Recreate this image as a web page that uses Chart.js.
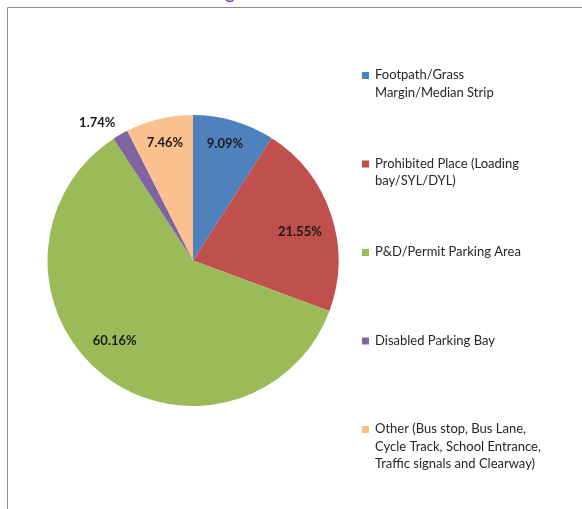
<!DOCTYPE html>
<html>
<head>
<meta charset="utf-8">
<script src="https://cdn.jsdelivr.net/npm/chart.js@4/dist/chart.umd.min.js"></script>
<style>
  html, body { margin: 0; padding: 0; background: #fff; }
  #wrap { position: relative; width: 582px; height: 509px; overflow: hidden; }
</style>
</head>
<body>
<div id="wrap"><canvas id="pieChart" width="582" height="509"></canvas></div>
<script>
// data
var categories = [
	['Footpath/Grass', 'Margin/Median Strip'],
	['Prohibited Place (Loading', 'bay/SYL/DYL)'],
	['P&D/Permit Parking Area'],
	['Disabled Parking Bay'],
	['Other (Bus stop, Bus Lane,', 'Cycle Track, School Entrance,', 'Traffic signals and Clearway)']
];
var percentages = [9.09, 21.55, 60.16, 1.74, 7.46];
var sliceColors = ['#4F81BD', '#C0504D', '#9BBB59', '#8064A2', '#FAC090'];

// where each percent label sits: fraction of the radius, and a small turn (degrees) off the slice middle
var labelRadius = [0.83, 0.76, 0.77, 1.15, 0.83];
var labelTurn = [-1, 3.6, 5.7, -4.9, 0];

var fontName = 'Lato, "Open Sans", sans-serif';

// frame, clipped title and the percent labels
var decorPlugin = {
	id: 'decor',
	beforeDraw: function(chart) {
		var ctx = chart.ctx;
		ctx.save();
		ctx.fillStyle = '#fff';
		ctx.fillRect(0, 0, chart.width, chart.height);
		ctx.strokeStyle = '#8c8c8c';
		ctx.lineWidth = 1;
		ctx.beginPath();
		ctx.moveTo(7.5, chart.height);
		ctx.lineTo(7.5, 7.5);
		ctx.lineTo(chart.width, 7.5);
		ctx.stroke();
		// title, mostly cut off above the picture
		ctx.fillStyle = '#7030A0';
		ctx.font = '19px ' + fontName;
		ctx.textBaseline = 'alphabetic';
		ctx.fillText('g', 225, -1);
		ctx.restore();
	},
	afterDatasetsDraw: function(chart) {
		var ctx = chart.ctx;
		var arcs = chart.getDatasetMeta(0).data;
		ctx.save();
		ctx.font = 'bold 13px ' + fontName;
		ctx.fillStyle = '#1a1a1a';
		ctx.textAlign = 'center';
		ctx.textBaseline = 'middle';
		arcs.forEach(function(arc, i) {
			var mid = (arc.startAngle + arc.endAngle) / 2 + labelTurn[i] * Math.PI / 180;
			var r = arc.outerRadius * labelRadius[i];
			var x = arc.x + Math.cos(mid) * r;
			var y = arc.y + Math.sin(mid) * r;
			ctx.fillText(percentages[i].toFixed(2) + '%', x, y);
		});
		ctx.restore();
	}
};

// legend drawn on the right, multi-line like the original
var sideLegend = {
	id: 'sideLegend',
	afterDraw: function(chart) {
		var ctx = chart.ctx;
		ctx.save();
		ctx.font = '13px ' + fontName;
		ctx.textBaseline = 'middle';
		categories.forEach(function(lines, i) {
			var y0 = 75 + i * 88.5;
			ctx.fillStyle = sliceColors[i];
			ctx.fillRect(362, y0 - 3, 7, 7);
			ctx.fillStyle = '#262626';
			lines.forEach(function(t, j) {
				ctx.fillText(t, 375, y0 + j * 17.5);
			});
		});
		ctx.restore();
	}
};

const pc = document.getElementById('pieChart');
var pieChart = new Chart(pc, {
	type: 'pie',
	data: {
		labels: categories.map(function(l) { return l.join(' '); }),
		datasets: [{
			data: percentages,
			backgroundColor: sliceColors,
			borderWidth: 0
		}]
	},
	options: {
		responsive: false,
		animation: false,
		layout: {
			padding: { left: 47.5, right: 243.5, top: 115, bottom: 103 }
		},
		plugins: {
			legend: { display: false },
			tooltip: { enabled: false }
		}
	},
	plugins: [decorPlugin, sideLegend]
});
</script>
</body>
</html>
